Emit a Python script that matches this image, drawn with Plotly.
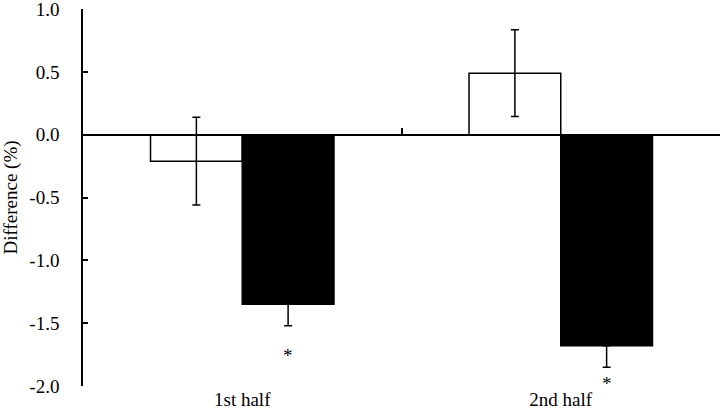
import plotly.graph_objects as go

# data
categories = ["1st half", "2nd half"]
open_vals = [-0.21, 0.49]
open_err = [0.35, 0.345]
filled_vals = [-1.35, -1.68]
filled_err = [0.17, 0.17]
star_y = [-1.76, -1.98]
y_ticks = [1.0, 0.5, 0.0, -0.5, -1.0, -1.5, -2.0]

FONT = dict(family="Liberation Serif", size=19, color="black")
BARGAP = 0.424

fig = go.Figure()
fig.add_trace(go.Bar(
    x=categories, y=open_vals, name="open",
    marker=dict(color="white", line=dict(color="black", width=1.5)),
    error_y=dict(type="data", array=open_err, color="black", thickness=1.5, width=4),
))
fig.add_trace(go.Bar(
    x=categories, y=filled_vals, name="filled",
    marker=dict(color="black", line=dict(color="black", width=1.5)),
    # only the lower arm is drawn for the filled bars
    error_y=dict(type="data", symmetric=False, array=[0] * len(filled_err),
                 arrayminus=filled_err, color="black", thickness=1.5, width=4),
))
# dummy trace so the overlay axis (zero-line axis with boundary ticks) renders
fig.add_trace(go.Scatter(x=[0], y=[None], xaxis="x2", showlegend=False, hoverinfo="skip"))

# significance markers below the filled bars
half_bar = (1 - BARGAP) / 4
for i, yv in enumerate(star_y):
    fig.add_annotation(x=i + half_bar, y=yv, xref="x2", yref="y", text="*",
                       showarrow=False, font=FONT, yanchor="middle")

fig.update_layout(
    barmode="group", bargap=BARGAP, bargroupgap=0,
    showlegend=False, font=FONT,
    width=723, height=418,
    margin=dict(l=83, r=3, t=9, b=32),
    plot_bgcolor="white", paper_bgcolor="white",
    xaxis=dict(type="category", range=[-0.5, 1.5], showline=False, ticks="",
               showgrid=False, zeroline=False, tickfont=FONT, automargin=False),
    xaxis2=dict(overlaying="x", anchor="free", position=2 / 3, type="linear",
                range=[-0.5, 1.5], showline=True, linecolor="black", linewidth=1.5,
                ticks="inside", ticklen=6, tickwidth=1.5, tickcolor="black",
                tickmode="array", tickvals=[-0.5, 0.5, 1.499], showticklabels=False,
                showgrid=False, zeroline=False, automargin=False),
    yaxis=dict(range=[-2, 1.001], tickmode="array", tickvals=y_ticks,
               ticktext=[f"{v:.1f}" for v in y_ticks],
               showline=True, linecolor="black", linewidth=1.5,
               ticks="inside", ticklen=5, tickwidth=1.5, tickcolor="black",
               ticklabelstandoff=18, ticklabeloverflow="allow",
               showgrid=False, zeroline=False, tickfont=FONT,
               automargin=False,
               title=dict(text="Difference (%)", font=FONT, standoff=10)),
)

fig.write_html("out.html", config={"displayModeBar": False},
               post_script="document.body.style.margin='0';")
